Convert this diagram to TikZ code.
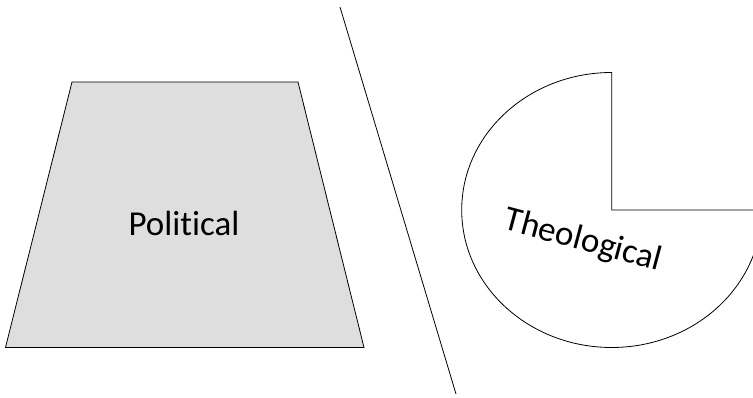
\documentclass[tikz,border=0pt]{standalone}
\usepackage{fontspec}
\setmainfont[Ligatures=NoCommon]{Carlito}
\begin{document}
\begin{tikzpicture}[x=1pt,y=1pt,
  shapeline/.style={draw=black,line width=0.8pt},
  lbl/.style={font=\fontsize{35}{40}\selectfont,inner sep=0pt}]
\useasboundingbox (0,0) rectangle (753,398);
\clip (0,0) rectangle (753,398);
% trapezoid
\filldraw[shapeline,fill={rgb,255:red,222;green,222;blue,222}]
  (72,316) -- (298,316) -- (364,50.5) -- (5.5,50.5) -- cycle;
\node[lbl] (political) at (184,175) {Political};
% divider line
\coordinate (dtop) at (340,391);
\coordinate (dbot) at (456,4);
\draw[shapeline] (dtop) -- (dbot);
% pac-man shape
\draw[shapeline,fill=white] (611.7,188) -- (611.7,325.5)
  arc[start angle=90,end angle=360,x radius=150,y radius=137.5] -- cycle;
\node[lbl,rotate=-15] (theological) at (583,157) {Theological};
\end{tikzpicture}
\end{document}
